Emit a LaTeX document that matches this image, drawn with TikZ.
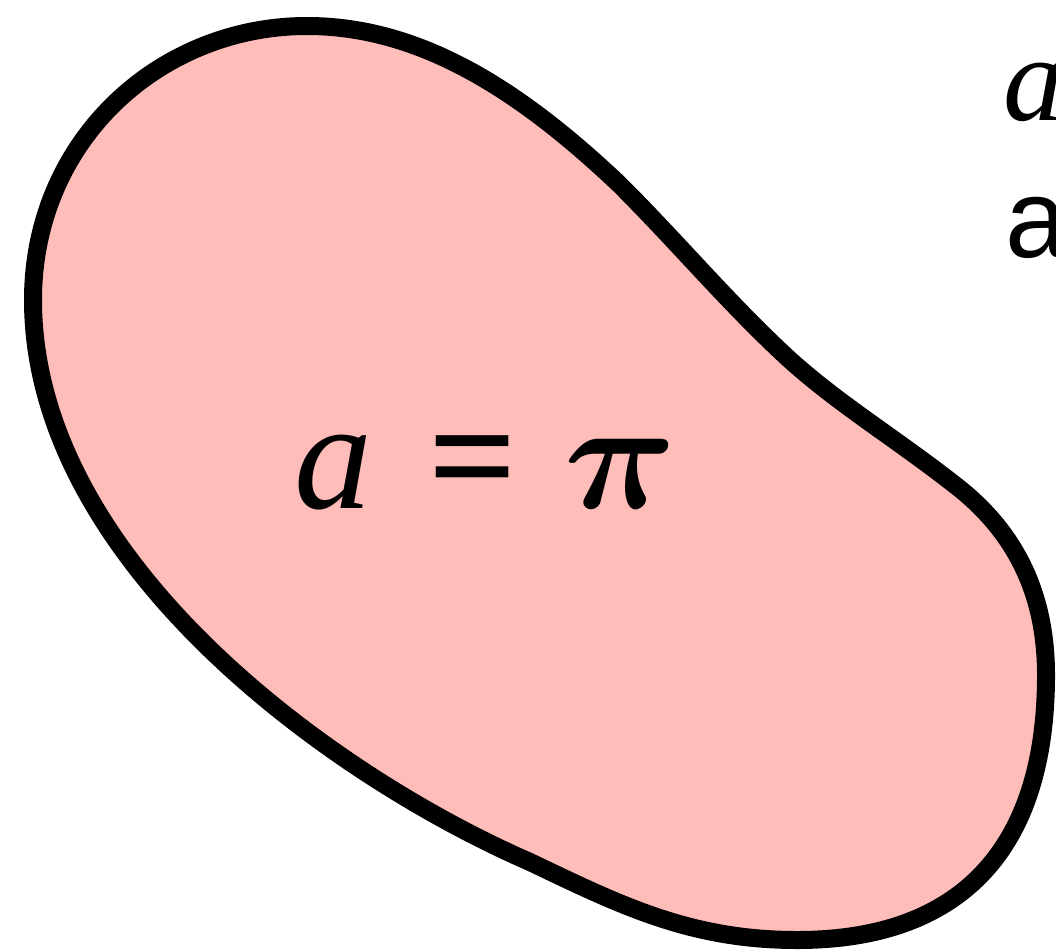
\RequirePackage{fix-cm}
\documentclass[tikz,border=0pt]{standalone}
\usepackage{fontspec}
\setmainfont{Liberation Serif}
\newfontfamily\lsans{Liberation Sans}
\definecolor{blobpink}{RGB}{255,189,186}
\begin{document}
\begin{tikzpicture}[x=1pt,y=-1pt,
  blob/.style={draw=black,fill=blobpink,line width=18pt,line join=round},
  bigtxt/.style={inner sep=0pt,anchor=base west,font=\fontsize{156}{160}\selectfont}]
\useasboundingbox (0,0) rectangle (1056,950);
\draw[blob] (33,300)
  .. controls (33,140) and (160,26) .. (307,26)
  .. controls (420,26) and (520,90) .. (620,185)
  .. controls (680,245) and (730,305) .. (790,360)
  .. controls (840,405) and (895,438) .. (955,485)
  .. controls (1020,535) and (1046,600) .. (1046,675)
  .. controls (1046,850) and (960,940) .. (797,940)
  .. controls (690,940) and (620,905) .. (530,862)
  .. controls (330,775) and (33,560) .. (33,300) -- cycle;
\node[bigtxt] (eq) at (294,508) {\textit{a}\hspace{0.36em}\textbf{=}\hspace{0.3em}{\boldmath$\pi$}};
\node[inner sep=0pt,anchor=base west,font=\fontsize{122}{124}\selectfont] (ta) at (1003,120) {\textit{a}};
\node[inner sep=0pt,anchor=base west,font=\lsans\fontsize{112}{114}\selectfont] (sa) at (1005,257) {a};
\end{tikzpicture}
\end{document}
